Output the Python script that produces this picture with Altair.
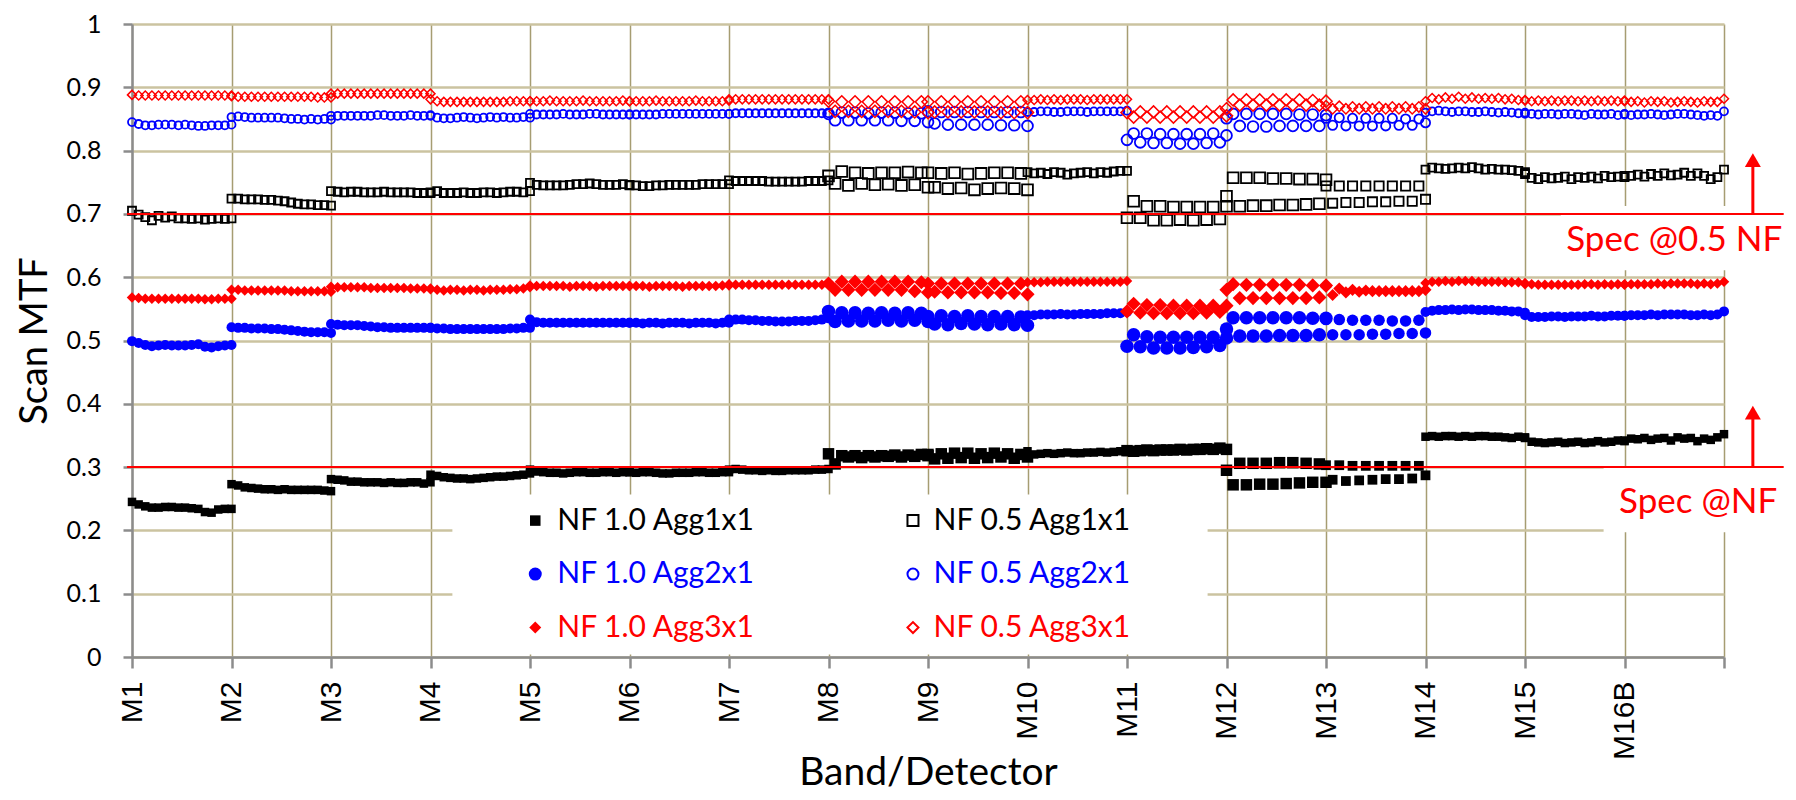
import altair as alt
import pandas as pd

# ---------------- data ----------------
BANDS = ["M1", "M2", "M3", "M4", "M5", "M6", "M7", "M8",
         "M9", "M10", "M11", "M12", "M13", "M14", "M15", "M16B"]
X_TICK_LABELS = BANDS + [""]
Y_TICKS = [0, 0.1, 0.2, 0.3, 0.4, 0.5, 0.6, 0.7, 0.8, 0.9, 1]
DETECTORS = 16

SERIES = ["NF 1.0 Agg1x1", "NF 0.5 Agg1x1", "NF 1.0 Agg2x1",
          "NF 0.5 Agg2x1", "NF 1.0 Agg3x1", "NF 0.5 Agg3x1"]

# Scan MTF x 1000, one list of 16 detectors per band
NF10_AGG1 = [
    [245, 241, 238, 236, 236, 237, 237, 236, 236, 235, 234, 229, 228, 233, 234, 234],
    [273, 271, 268, 267, 266, 265, 265, 264, 265, 264, 264, 264, 264, 264, 263, 262],
    [281, 280, 279, 277, 277, 276, 276, 276, 275, 276, 275, 275, 276, 276, 274, 276],
    [288, 286, 284, 283, 282, 282, 281, 282, 283, 284, 285, 285, 286, 287, 288, 290],
    [296, 293, 292, 291, 291, 290, 291, 292, 292, 291, 291, 292, 292, 291, 292, 292],
    [292, 291, 292, 292, 291, 290, 290, 291, 291, 291, 292, 292, 291, 291, 292, 292],
    [296, 297, 296, 295, 295, 294, 295, 294, 294, 295, 295, 295, 295, 296, 296, 297],
    [321, 305, 318, 316, 318, 315, 318, 316, 318, 317, 319, 316, 319, 317, 320, 318],
    [320, 313, 321, 314, 322, 315, 322, 314, 321, 315, 322, 316, 321, 314, 320, 316],
    [325, 320, 321, 322, 321, 322, 323, 322, 322, 323, 323, 324, 323, 324, 325, 324],
    [326, 325, 326, 327, 326, 327, 327, 327, 328, 327, 328, 328, 329, 328, 330, 328],
    [295, 272, 306, 272, 306, 273, 306, 273, 307, 274, 307, 275, 306, 276, 305, 276],
    [303, 280, 303, 278, 302, 279, 302, 280, 302, 281, 302, 281, 302, 282, 302, 287],
    [348, 349, 348, 349, 349, 348, 349, 348, 349, 349, 348, 348, 347, 346, 348, 347],
    [346, 340, 339, 338, 339, 340, 338, 339, 340, 338, 339, 341, 339, 340, 342, 341],
    [342, 345, 344, 346, 343, 345, 346, 342, 347, 345, 346, 341, 345, 343, 347, 352],
]
NF05_AGG1 = [
    [705, 699, 695, 690, 697, 694, 696, 693, 693, 692, 693, 691, 692, 693, 692, 693],
    [724, 724, 723, 723, 723, 722, 722, 721, 720, 718, 716, 715, 715, 714, 714, 713],
    [736, 735, 734, 735, 735, 734, 734, 734, 735, 734, 734, 734, 734, 733, 733, 734],
    [733, 736, 733, 733, 733, 734, 733, 733, 734, 734, 733, 734, 735, 735, 734, 736],
    [749, 746, 745, 745, 745, 745, 746, 747, 747, 748, 747, 746, 746, 746, 747, 746],
    [745, 745, 744, 744, 745, 745, 746, 746, 746, 746, 746, 747, 747, 747, 747, 747],
    [753, 752, 752, 752, 752, 752, 751, 751, 751, 751, 751, 751, 752, 752, 752, 753],
    [760, 748, 767, 745, 765, 748, 764, 746, 765, 747, 765, 745, 766, 746, 765, 742],
    [765, 742, 764, 740, 765, 741, 763, 738, 764, 740, 765, 741, 765, 740, 764, 738],
    [766, 764, 765, 763, 766, 765, 762, 764, 765, 766, 764, 766, 765, 767, 768, 768],
    [694, 720, 694, 712, 690, 712, 690, 711, 691, 711, 690, 711, 691, 711, 692, 712],
    [728, 757, 712, 757, 713, 757, 713, 756, 714, 756, 714, 755, 715, 755, 716, 754],
    [744, 717, 744, 718, 744, 718, 744, 719, 744, 719, 744, 720, 744, 720, 744, 723],
    [770, 773, 772, 771, 772, 773, 772, 774, 772, 770, 771, 770, 770, 769, 768, 766],
    [763, 757, 755, 758, 756, 757, 759, 755, 758, 757, 759, 756, 760, 758, 759, 760],
    [758, 760, 762, 759, 763, 760, 764, 761, 762, 765, 760, 764, 760, 755, 758, 770],
]
NF10_AGG2 = [
    [499, 496, 493, 491, 492, 493, 492, 492, 492, 493, 494, 490, 489, 491, 492, 493],
    [521, 520, 520, 519, 519, 519, 518, 518, 517, 516, 515, 514, 513, 513, 513, 512],
    [526, 525, 524, 524, 524, 523, 522, 521, 521, 520, 520, 520, 520, 520, 520, 520],
    [520, 519, 519, 518, 518, 518, 518, 518, 518, 518, 518, 518, 519, 519, 520, 520],
    [533, 529, 528, 528, 528, 528, 528, 528, 528, 528, 528, 528, 528, 528, 528, 528],
    [528, 528, 527, 528, 528, 527, 528, 528, 528, 527, 528, 528, 528, 527, 528, 528],
    [533, 533, 533, 532, 532, 531, 531, 530, 530, 530, 531, 531, 531, 532, 533, 535],
    [546, 530, 544, 531, 544, 531, 543, 531, 544, 532, 543, 531, 544, 532, 543, 530],
    [538, 526, 539, 525, 538, 527, 539, 526, 538, 525, 538, 526, 538, 525, 537, 524],
    [540, 540, 541, 541, 541, 542, 541, 541, 542, 542, 542, 542, 543, 543, 543, 545],
    [491, 509, 490, 506, 488, 505, 488, 505, 488, 505, 489, 505, 490, 505, 492, 504],
    [518, 536, 507, 536, 507, 536, 507, 536, 508, 536, 508, 536, 508, 535, 509, 535],
    [533, 509, 533, 509, 532, 509, 532, 510, 532, 510, 531, 511, 531, 511, 532, 512],
    [545, 547, 548, 548, 549, 548, 549, 549, 548, 548, 548, 547, 547, 546, 546, 544],
    [540, 537, 537, 537, 538, 538, 537, 538, 538, 538, 539, 538, 538, 539, 539, 539],
    [539, 540, 540, 540, 541, 540, 541, 541, 541, 541, 540, 540, 541, 540, 541, 546],
]
NF05_AGG2 = [
    [845, 842, 840, 840, 841, 841, 841, 840, 841, 840, 839, 839, 840, 840, 840, 841],
    [853, 854, 853, 852, 852, 852, 852, 852, 851, 850, 850, 849, 850, 849, 850, 849],
    [855, 855, 855, 855, 855, 855, 855, 856, 856, 855, 855, 855, 856, 855, 855, 856],
    [855, 852, 851, 851, 852, 853, 852, 851, 852, 853, 852, 853, 852, 852, 853, 852],
    [858, 857, 857, 857, 857, 858, 857, 857, 857, 858, 858, 857, 857, 857, 857, 857],
    [857, 857, 857, 857, 857, 858, 858, 858, 858, 858, 858, 858, 858, 858, 858, 858],
    [858, 859, 859, 859, 859, 859, 859, 859, 859, 859, 859, 859, 859, 859, 859, 859],
    [858, 848, 860, 848, 860, 848, 859, 848, 860, 848, 860, 847, 859, 847, 859, 845],
    [862, 843, 861, 841, 861, 841, 861, 841, 861, 841, 861, 840, 861, 840, 861, 839],
    [861, 861, 862, 862, 861, 861, 862, 862, 862, 861, 862, 862, 862, 862, 862, 863],
    [817, 827, 813, 827, 812, 826, 812, 826, 811, 826, 811, 826, 812, 827, 813, 824],
    [851, 858, 839, 858, 838, 858, 838, 858, 839, 858, 839, 857, 839, 857, 839, 856],
    [851, 840, 852, 839, 851, 839, 851, 839, 851, 839, 851, 840, 850, 840, 850, 844],
    [860, 862, 863, 862, 861, 862, 862, 861, 861, 862, 861, 860, 861, 860, 859, 860],
    [858, 858, 857, 858, 858, 857, 858, 858, 857, 856, 858, 857, 857, 858, 856, 858],
    [857, 856, 857, 857, 858, 857, 856, 857, 858, 858, 857, 856, 855, 856, 855, 862],
]
NF10_AGG3 = [
    [568, 567, 566, 566, 566, 566, 566, 566, 566, 566, 566, 565, 565, 566, 566, 566],
    [580, 580, 579, 579, 579, 579, 579, 579, 579, 578, 578, 578, 578, 578, 578, 577],
    [585, 584, 584, 584, 584, 584, 583, 583, 583, 583, 583, 583, 582, 582, 582, 582],
    [581, 580, 579, 580, 580, 579, 580, 580, 579, 580, 580, 580, 581, 581, 582, 584],
    [587, 586, 586, 586, 586, 586, 585, 586, 586, 586, 585, 586, 586, 586, 586, 586],
    [586, 586, 586, 585, 586, 586, 586, 586, 585, 586, 586, 586, 586, 586, 587, 587],
    [589, 588, 588, 588, 588, 588, 588, 588, 588, 588, 588, 588, 588, 588, 588, 588],
    [590, 580, 593, 580, 593, 580, 593, 580, 593, 580, 593, 580, 593, 578, 592, 576],
    [590, 577, 590, 576, 590, 576, 590, 576, 590, 576, 590, 575, 590, 575, 590, 573],
    [592, 592, 592, 593, 593, 593, 593, 593, 593, 593, 593, 593, 593, 593, 593, 594],
    [546, 558, 544, 556, 543, 556, 543, 555, 543, 555, 543, 555, 544, 555, 545, 555],
    [580, 589, 567, 588, 567, 588, 567, 588, 567, 588, 567, 588, 567, 587, 568, 587],
    [585, 572, 582, 576, 580, 577, 579, 578, 578, 578, 578, 578, 578, 578, 578, 580],
    [591, 593, 593, 594, 593, 594, 594, 594, 593, 593, 593, 593, 592, 592, 592, 591],
    [589, 589, 588, 588, 588, 588, 588, 588, 588, 589, 589, 588, 589, 588, 589, 589],
    [588, 589, 589, 589, 589, 590, 589, 590, 590, 590, 590, 589, 590, 589, 590, 593],
]
NF05_AGG3 = [
    [888, 887, 887, 887, 887, 887, 887, 887, 887, 887, 887, 887, 887, 887, 887, 887],
    [886, 885, 885, 885, 885, 885, 885, 885, 885, 885, 885, 885, 885, 884, 884, 884],
    [890, 890, 890, 890, 890, 890, 890, 890, 890, 890, 890, 890, 890, 890, 890, 890],
    [881, 878, 877, 877, 877, 877, 877, 877, 877, 877, 877, 877, 878, 878, 878, 878],
    [878, 878, 878, 879, 878, 878, 878, 878, 879, 878, 878, 878, 878, 878, 879, 878],
    [878, 878, 878, 878, 879, 878, 878, 878, 878, 878, 879, 878, 878, 878, 878, 879],
    [881, 881, 881, 881, 881, 881, 881, 881, 881, 881, 881, 881, 881, 881, 881, 881],
    [878, 862, 877, 862, 877, 862, 877, 862, 877, 862, 877, 862, 877, 861, 877, 860],
    [877, 861, 877, 861, 877, 861, 877, 861, 877, 861, 877, 860, 877, 860, 877, 860],
    [880, 880, 881, 880, 881, 880, 881, 881, 881, 880, 881, 881, 881, 881, 881, 881],
    [860, 853, 861, 853, 861, 853, 861, 853, 861, 853, 861, 853, 861, 853, 861, 855],
    [866, 880, 872, 880, 872, 880, 872, 880, 872, 880, 872, 880, 872, 879, 872, 878],
    [871, 866, 870, 866, 869, 866, 869, 866, 869, 866, 869, 866, 869, 866, 869, 866],
    [878, 883, 881, 884, 882, 885, 882, 884, 882, 883, 882, 883, 881, 882, 880, 880],
    [879, 878, 879, 878, 879, 878, 879, 879, 878, 879, 878, 879, 878, 879, 878, 879],
    [878, 877, 878, 876, 878, 877, 878, 876, 877, 878, 877, 876, 878, 877, 877, 882],
]
ALL_SERIES = [NF10_AGG1, NF05_AGG1, NF10_AGG2, NF05_AGG2, NF10_AGG3, NF05_AGG3]

SPEC_NF = 0.3
SPEC_HALF_NF = 0.7
SPEC_TEXTS = ["Spec @0.5 NF", "Spec @NF"]

# ---------------- styles / layout ----------------
# shape, filled, colour, marker side (px), stroke width
MARKERS = [
    ("square", True, "#000000", 8.5, 0),
    ("square", False, "#000000", 8.0, 1.8),
    ("circle", True, "#0000FF", 10.0, 0),
    ("circle", False, "#0000FF", 8.0, 1.8),
    ("diamond", True, "#FF0000", 10.5, 0),
    ("diamond", False, "#FF0000", 9.0, 1.5),
]
LEGEND_SIDE = [10.5, 11, 13, 11, 12, 11]
BAND_MARKER_SCALE = {"M8": 1.35, "M9": 1.35, "M11": 1.35, "M12": 1.35, "M13": 1.15}
LEGEND_ROW_Y = [0.2155, 0.131, 0.0465]
LEGEND_COL_X = [(4.053, 4.274), (7.849, 8.056)]
SPEC_TEXT_POS = [(15.5, 0.641), (15.74, 0.2274)]
ARROW_X = 16.29
ARROW_HEAD = [0.386, 0.785]
LINE_X = (-0.05, 16.6)
# white boxes behind legend and labels (data units)
BOXES = [(3.22, 10.81, 0.004, 0.2566), (14.79, 16.7, 0.197, 0.2995), (14.36, 16.7, 0.611, 0.7125)]

W, H = 1592, 633
N_BANDS = len(BANDS)

x_scale = alt.Scale(domain=[0, N_BANDS], nice=False, zero=False)
y_scale = alt.Scale(domain=[0, 1], nice=False, zero=False)

label_expr = "[" + ",".join("'%s'" % s for s in X_TICK_LABELS) + "][datum.value]"

AX_GRAY = "#8c8c8c"
x_axis = alt.Axis(
    values=list(range(N_BANDS + 1)), labelExpr=label_expr, labelAngle=270,
    labelFont="Liberation Sans", labelFontSize=30, labelColor="#000000",
    labelPadding=13, labelFlush=False, labelOverlap=False, labelBound=False,
    tickSize=11, tickColor=AX_GRAY, tickWidth=2.5,
    domainColor=AX_GRAY, domainWidth=2.5,
    grid=True, gridColor="#a69d72", gridWidth=1.5,
    title="Band/Detector", titleFont="Lato", titleFontSize=39,
    titleFontWeight="normal", titleColor="#000000",
    titleX=W / 2, titleY=127, titleBaseline="alphabetic", titleAlign="center",
)
y_axis = alt.Axis(
    values=Y_TICKS, format="~g",
    labelFont="Lato", labelFontSize=25, labelColor="#000000",
    labelPadding=22, labelFlush=False, labelOverlap=False, labelBound=False,
    tickSize=9, tickColor=AX_GRAY, tickWidth=2.5,
    domainColor=AX_GRAY, domainWidth=2.5,
    grid=True, gridColor="#cbc3a0", gridWidth=2.5,
    title="Scan MTF", titleFont="Lato", titleFontSize=38,
    titleFontWeight="normal", titleColor="#000000", titleAngle=270,
    titleX=-86, titleY=H / 2, titleBaseline="alphabetic", titleAlign="center",
)


def X(field):
    return alt.X(field, type="quantitative", scale=x_scale, axis=x_axis)


def Y(field):
    return alt.Y(field, type="quantitative", scale=y_scale, axis=y_axis)


layers = []

# white boxes
box_df = pd.DataFrame(BOXES, columns=["x", "x2", "y", "y2"])
layers.append(
    alt.Chart(box_df).mark_rect(color="white", opacity=1).encode(
        x=X("x"), x2="x2", y=Y("y"), y2="y2")
)

# data series
for name, vals, (shape, filled, color, side, sw) in zip(SERIES, ALL_SERIES, MARKERS):
    rows = []
    for b, band in enumerate(BANDS):
        f = BAND_MARKER_SCALE.get(band, 1.0)
        for d, v in enumerate(vals[b]):
            rows.append({"series": name, "band": band, "det": d + 1,
                         "x": b + d / (DETECTORS - 1), "mtf": v / 1000.0,
                         "msize": (side * f) ** 2})
    df = pd.DataFrame(rows)
    mk = dict(shape=shape, filled=filled, color=color, opacity=1)
    if not filled:
        mk["strokeWidth"] = sw
    layers.append(
        alt.Chart(df).mark_point(**mk).encode(
            x=X("x"), y=Y("mtf"), size=alt.Size("msize:Q", scale=None))
    )

# spec lines
spec_df = pd.DataFrame({"x": [LINE_X[0]] * 2, "x2": [LINE_X[1]] * 2,
                        "y": [SPEC_HALF_NF, SPEC_NF]})
layers.append(
    alt.Chart(spec_df).mark_rule(color="#FF0000", strokeWidth=2).encode(
        x=X("x"), x2="x2", y=Y("y"))
)
# arrows
arrow_df = pd.DataFrame({"x": [ARROW_X, ARROW_X], "y": [SPEC_HALF_NF, SPEC_NF],
                         "y2": [ARROW_HEAD[1] - 0.005, ARROW_HEAD[0] - 0.005]})
layers.append(
    alt.Chart(arrow_df).mark_rule(color="#FF0000", strokeWidth=3).encode(
        x=X("x"), y=Y("y"), y2="y2")
)
head_df = pd.DataFrame({"x": [ARROW_X, ARROW_X], "y": [ARROW_HEAD[1], ARROW_HEAD[0]]})
layers.append(
    alt.Chart(head_df).mark_point(shape="triangle-up", filled=True, color="#FF0000",
                                  opacity=1, size=256).encode(x=X("x"), y=Y("y"))
)
# spec texts
st_df = pd.DataFrame({"label": SPEC_TEXTS, "x": [p[0] for p in SPEC_TEXT_POS],
                      "y": [p[1] for p in SPEC_TEXT_POS]})
layers.append(
    alt.Chart(st_df).mark_text(color="#FF0000", font="Lato", fontSize=35,
                               align="center", baseline="alphabetic").encode(
        x=X("x"), y=Y("y"), text="label")
)

# manual legend (2 columns x 3 rows)
for i, (name, (shape, filled, color, side, sw)) in enumerate(zip(SERIES, MARKERS)):
    col, row = i % 2, i // 2
    mx, tx = LEGEND_COL_X[col]
    ly = LEGEND_ROW_Y[row]
    mdf = pd.DataFrame({"x": [mx], "y": [ly]})
    mk = dict(shape=shape, filled=filled, color=color, opacity=1,
              size=LEGEND_SIDE[i] ** 2)
    if not filled:
        mk["strokeWidth"] = 2
    layers.append(alt.Chart(mdf).mark_point(**mk).encode(x=X("x"), y=Y("y")))
    tdf = pd.DataFrame({"x": [tx], "y": [ly], "label": [name]})
    layers.append(
        alt.Chart(tdf).mark_text(color=color, font="Lato", fontSize=30,
                                 align="left", baseline="middle").encode(
            x=X("x"), y=Y("y"), text="label")
    )

chart = alt.layer(*layers).properties(
    width=W, height=H,
    autosize=alt.AutoSizeParams(type="none"),
    padding={"left": 124, "top": 16, "right": 60, "bottom": 135},
    background="white",
).configure_view(stroke=None)

chart.save("out.html", embed_options={"renderer": "svg", "actions": False})
